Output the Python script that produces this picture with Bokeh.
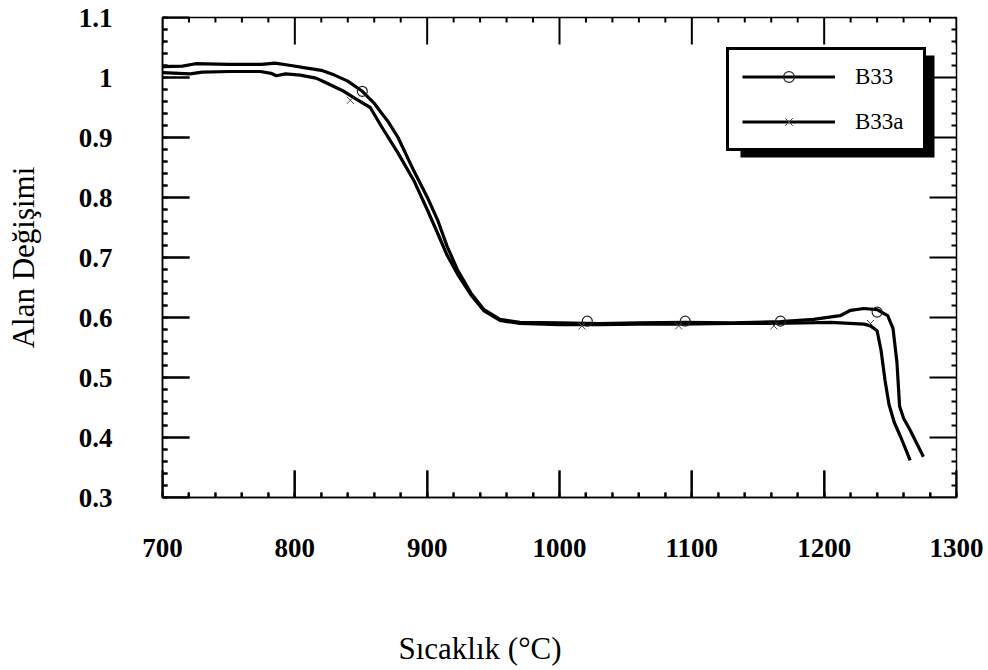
import numpy as np
from bokeh.plotting import figure
from bokeh.models import (Range1d, SingleIntervalTicker, FixedTicker, Legend,
                          LegendItem, BoxAnnotation, LinearAxis, Title,
                          CustomLabelingPolicy)
from bokeh.embed import file_html
from bokeh.resources import INLINE

# ---- data ----
b33_x = [700, 715, 725, 750, 775, 785, 797, 808, 820, 830, 840, 851, 860, 865,
         870, 878, 890, 900, 908, 915, 923, 933, 943, 955, 970, 1000, 1030,
         1060, 1095, 1130, 1167, 1192, 1212, 1220, 1230, 1240, 1248, 1252,
         1255, 1257, 1260, 1265, 1275]
b33_y = [1.018, 1.019, 1.023, 1.022, 1.022, 1.024, 1.020, 1.016, 1.012, 1.004,
         0.994, 0.977, 0.957, 0.942, 0.928, 0.900, 0.844, 0.801, 0.762, 0.719,
         0.679, 0.641, 0.613, 0.597, 0.592, 0.591, 0.590, 0.591, 0.592, 0.591,
         0.593, 0.597, 0.603, 0.612, 0.615, 0.613, 0.603, 0.582, 0.525, 0.452,
         0.432, 0.412, 0.368]

b33a_x = [700, 721, 730, 751, 774, 782, 786, 793, 804, 816, 822, 837, 847, 857,
          865, 878, 890, 900, 908, 915, 923, 933, 943, 955, 970, 1000, 1030,
          1060, 1090, 1130, 1162, 1205, 1230, 1235, 1240, 1243, 1246, 1249,
          1253, 1258, 1265]
b33a_y = [1.008, 1.006, 1.009, 1.010, 1.010, 1.007, 1.003, 1.006, 1.004, 0.999,
          0.993, 0.977, 0.963, 0.950, 0.920, 0.874, 0.828, 0.780, 0.740, 0.704,
          0.672, 0.638, 0.611, 0.595, 0.590, 0.588, 0.588, 0.589, 0.589, 0.590,
          0.590, 0.592, 0.589, 0.586, 0.578, 0.545, 0.495, 0.455, 0.425, 0.400,
          0.362]

b33_marker_x = [851, 1021, 1095, 1167, 1240]
b33_marker_y = [0.977, 0.594, 0.594, 0.594, 0.609]
b33a_marker_x = [842, 1017, 1090, 1162, 1235]
b33a_marker_y = [0.962, 0.586, 0.586, 0.586, 0.590]

series_labels = ["B33", "B33a"]
x_title = "Sıcaklık (°C)"
y_title = "Alan Değişimi"
x_tick_values = [700, 800, 900, 1000, 1100, 1200, 1300]
y_tick_values = [0.3, 0.4, 0.5, 0.6, 0.7, 0.8, 0.9, 1.0, 1.1]
y_tick_labels = ["0.3", "0.4", "0.5", "0.6", "0.7", "0.8", "0.9", "1", "1.1"]

FONT = "Liberation Serif"
X0, X1, Y0, Y1 = 700, 1300, 0.3, 1.1

W, H = 988, 670
BL, BR, BT, BB = 162, 32, 17, 173
frame_w = W - BL - BR
frame_h = H - BT - BB
px_x = (X1 - X0) / frame_w     # data units per pixel
px_y = (Y1 - Y0) / frame_h


def sx(px):   # canvas pixel -> data x
    return X0 + (px - BL) * px_x


def sy(py):   # canvas pixel -> data y
    return Y1 - (py - BT) * px_y


p = figure(width=W, height=H, x_range=Range1d(X0, X1),
           y_range=Range1d(Y0, Y1), output_backend="svg",
           toolbar_location=None, min_border_left=BL, min_border_right=BR,
           min_border_top=BT, min_border_bottom=BB)
p.xgrid.visible = False
p.ygrid.visible = False
p.outline_line_color = "black"
p.outline_line_width = 1.5
p.background_fill_color = "white"
p.border_fill_color = "white"

# ---- inward ticks on all four sides (built from the tick lists) ----
x_minor = [float(v) for v in np.arange(X0, X1 + 1e-9, 20)
           if v not in x_tick_values]
y_minor = [round(float(v), 3) for v in np.arange(Y0, Y1 + 1e-9, 0.02)
           if min(abs(v - t) for t in y_tick_values) > 1e-6]
MAJ, MIN = 27, 5

tick_xs, tick_ys = [], []
for vals, length in ((x_tick_values, MAJ), (x_minor, MIN)):
    for v in vals:
        tick_xs += [[v, v], [v, v]]
        tick_ys += [[Y0, Y0 + length * px_y], [Y1, Y1 - length * px_y]]
for vals, length in ((y_tick_values, MAJ), (y_minor, MIN)):
    for v in vals:
        tick_xs += [[X0, X0 + length * px_x], [X1, X1 - length * px_x]]
        tick_ys += [[v, v], [v, v]]
p.multi_line(tick_xs, tick_ys, line_color="black", line_width=2)

l1 = p.line(b33_x, b33_y, line_color="black", line_width=3.2)
l2 = p.line(b33a_x, b33a_y, line_color="black", line_width=3.2)
m1 = p.scatter(b33_marker_x, b33_marker_y, marker="circle", size=10,
               fill_color=None, line_color="#222222", line_width=1.2)
m2 = p.scatter(b33a_marker_x, b33a_marker_y, marker="x", size=10,
               line_color="#444444", line_width=1.0)


def style_axis(ax, interval):
    ax.ticker = SingleIntervalTicker(interval=interval, num_minor_ticks=5)
    ax.major_tick_in = MAJ
    ax.major_tick_out = 0
    ax.minor_tick_in = MIN
    ax.minor_tick_out = 0
    ax.major_tick_line_width = 2
    ax.minor_tick_line_width = 2
    ax.axis_line_color = "black"
    ax.axis_line_width = 1.5
    ax.major_label_text_font = FONT
    ax.major_label_text_font_style = "bold"
    ax.major_label_text_font_size = "27px"
    ax.major_label_text_color = "black"
    ax.axis_label_text_font = FONT
    ax.axis_label_text_font_style = "normal"
    ax.axis_label_text_font_size = "31px"
    ax.axis_label_text_color = "black"


xa = p.xaxis[0]
style_axis(xa, 100)
xa.major_label_standoff = 41

ya = p.yaxis[0]
style_axis(ya, 0.1)
ya.axis_label = y_title
ya.major_label_standoff = 50
ya.axis_label_standoff = 35
ya.major_label_overrides = {v: s for v, s in zip(y_tick_values, y_tick_labels)}

# blank spacer below the tick labels (its labels are never drawn), so that
# the x title sits lower, as in the reference
hide_all = CustomLabelingPolicy(code="""
for (const i of indices) {
    indices.unset(i)
}
return indices
""")
spacer = LinearAxis(ticker=FixedTicker(ticks=[1000]), axis_line_color=None,
                    major_tick_in=0, major_tick_out=0, minor_tick_in=0,
                    minor_tick_out=0, major_label_standoff=58,
                    major_label_text_font_size="10px",
                    major_label_policy=hide_all, axis_label=None)
p.add_layout(spacer, "below")

# x-axis title, left of centre as in the reference
xt = Title(text=x_title, align="left", offset=236, standoff=0,
           vertical_align="bottom", text_font=FONT, text_font_size="31px",
           text_font_style="normal", text_color="black")
p.add_layout(xt, "below")

# legend drop shadow
shadow = BoxAnnotation(left=sx(740), right=sx(934), top=sy(55), bottom=sy(157),
                       fill_color="black", fill_alpha=1.0, line_color=None)
p.add_layout(shadow)

legend = Legend(items=[LegendItem(label=series_labels[0], renderers=[l1, m1]),
                       LegendItem(label=series_labels[1], renderers=[l2, m2])],
                location="top_right", margin=30, padding=13, spacing=18,
                glyph_width=93, glyph_height=27, label_height=27,
                label_width=55, label_standoff=20,
                label_text_font=FONT, label_text_font_size="23px",
                label_text_color="black",
                border_line_color="black", border_line_width=3,
                border_line_alpha=1.0,
                background_fill_color="white", background_fill_alpha=1.0)
p.add_layout(legend)

open("out.html", "w").write(file_html(p, INLINE))
